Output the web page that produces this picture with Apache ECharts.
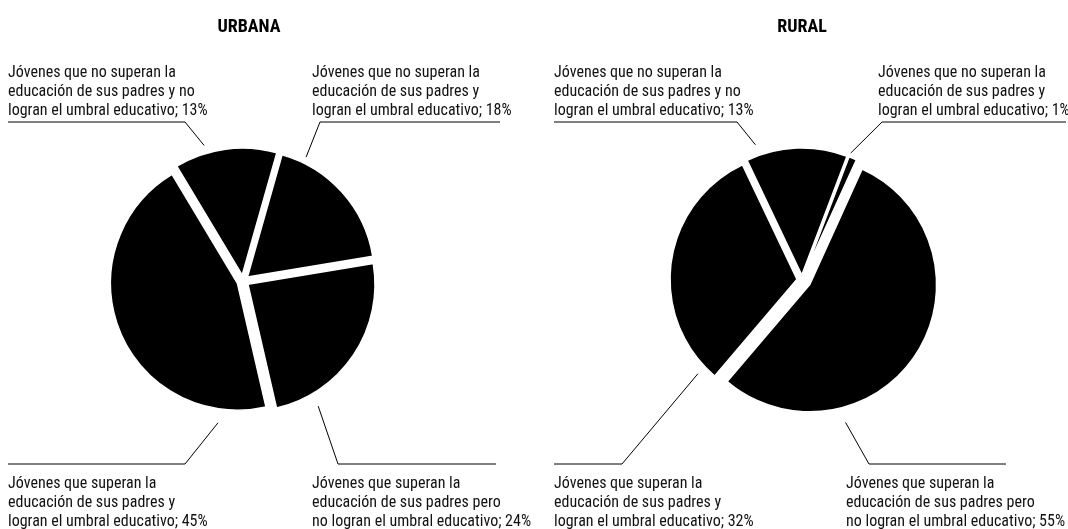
<!DOCTYPE html>
<html><head><meta charset="utf-8">
<script src="https://cdn.jsdelivr.net/npm/echarts@6.0.0/dist/echarts.min.js"></script>
<style>html,body{margin:0;padding:0;background:#fff}#c{width:1068px;height:529px}</style>
</head><body><div id="c"></div>
<script>
// ---- data ----
const categories = [
  'Jóvenes que no superan la\neducación de sus padres y no\nlogran el umbral educativo',
  'Jóvenes que no superan la\neducación de sus padres y\nlogran el umbral educativo',
  'Jóvenes que superan la\neducación de sus padres pero\nno logran el umbral educativo',
  'Jóvenes que superan la\neducación de sus padres y\nlogran el umbral educativo'
];
const titles = ['URBANA', 'RURAL'];
const urbanaValues = [13, 18, 24, 45];
const ruralValues = [13, 1, 55, 32];

// ---- layout / style ----
const FONT = "'Roboto Condensed', 'DejaVu Sans Condensed', sans-serif";
const R = 127;
const TOP_LINE_Y = 122, BOT_LINE_Y = 464;
const charts = [
  { title: titles[0], titleX: 244, values: urbanaValues, center: [243, 281], startAngle: 121,
    offsets: [6, 6, 6, 6],
    labels: [
      { side: 'top', textX: 8,   line: [8, 185],   bendRight: true,  angle: 344, dist: 141 },
      { side: 'top', textX: 312, line: [320, 500], bendRight: false, angle: 27,  dist: 139 },
      { side: 'bot', textX: 312, line: [338, 496], bendRight: false, angle: 149, dist: 146 },
      { side: 'bot', textX: 8,   line: [8, 185],   bendRight: true,  angle: 190, dist: 144 }
    ] },
  { title: titles[1], titleX: 797, values: ruralValues, center: [802, 280], startAngle: 115.5,
    offsets: [5, 5, 9, 5],
    labels: [
      { side: 'top', textX: 554, line: [554, 737], bendRight: true,  angle: 341, dist: 143 },
      { side: 'top', textX: 878, line: [882, 1066], bendRight: false, angle: 21,  dist: 136 },
      { side: 'bot', textX: 846, line: [869, 1006], bendRight: false, angle: 163, dist: 149 },
      { side: 'bot', textX: 554, line: [554, 622], bendRight: true,  angle: 228, dist: 140 }
    ] }
];

const black = { color: '#000', borderColor: '#fff', borderWidth: 1.5 };
const clear = { color: 'rgba(0,0,0,0)', borderWidth: 0 };

function sectorSeries(c) {
  const groups = [...new Set(c.offsets)];
  return groups.map(off => ({
    type: 'pie', center: c.center, radius: R, startAngle: c.startAngle, clockwise: true,
    selectedMode: 'multiple', selectedOffset: off, silent: true, avoidLabelOverlap: false,
    label: { show: false }, labelLine: { show: false }, emphasis: { disabled: true },
    data: c.values.map((v, i) => {
      const on = c.offsets[i] === off;
      return { name: categories[i], value: v, selected: on,
        itemStyle: on ? black : clear, select: { itemStyle: on ? black : clear } };
    })
  }));
}

function labelSeries(c) {
  return {
    type: 'pie', center: c.center, radius: R, startAngle: c.startAngle, clockwise: true,
    silent: true, avoidLabelOverlap: false, selectedMode: false, emphasis: { disabled: true },
    itemStyle: clear,
    label: { show: true, formatter: '{b}; {c}%', fontFamily: FONT, fontSize: 16, lineHeight: 19, color: '#111' },
    labelLine: { show: true, lineStyle: { color: '#000', width: 1 } },
    labelLayout: function (p) {
      const L = c.labels[p.dataIndex];
      const top = L.side === 'top';
      const ly = top ? TOP_LINE_Y : BOT_LINE_Y;
      const bend = L.bendRight ? L.line[1] : L.line[0];
      const far = L.bendRight ? L.line[0] : L.line[1];
      const a = L.angle * Math.PI / 180;
      const ex = c.center[0] + L.dist * Math.sin(a);
      const ey = c.center[1] - L.dist * Math.cos(a);
      return {
        x: L.textX, y: top ? ly - 2 : ly + 10,
        align: 'left', verticalAlign: top ? 'bottom' : 'top',
        labelLinePoints: [[far, ly], [bend, ly], [ex, ey]]
      };
    },
    data: c.values.map((v, i) => ({ name: categories[i], value: v }))
  };
}

const series = [];
charts.forEach(c => { series.push(...sectorSeries(c)); series.push(labelSeries(c)); });

const chart = echarts.init(document.getElementById('c'), null, { renderer: 'canvas' });
chart.setOption({
  animation: false,
  backgroundColor: '#fff',
  title: charts.map(c => ({
    text: c.title, left: c.titleX, top: 13, textAlign: 'center',
    textStyle: { fontFamily: FONT, fontSize: 18, fontWeight: 'bold', color: '#000' }
  })),
  series: series
});
</script>
</body></html>
